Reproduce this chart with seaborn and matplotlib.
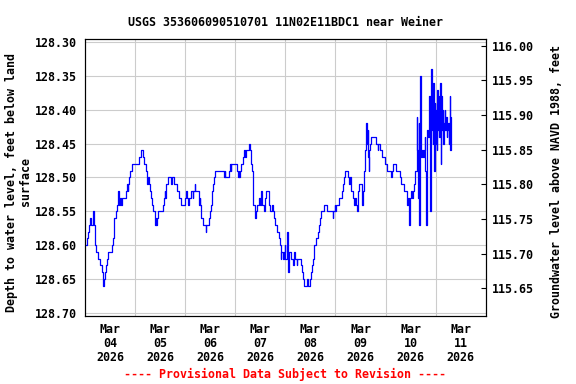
import pandas as pd
import matplotlib
matplotlib.use("Agg")
import matplotlib.pyplot as plt
import matplotlib.ticker as mticker
import seaborn as sns

# Hours after 2026-03-04 00:00 and depth to water (ft below land surface)
hours = [
    0.0, 0.8, 1.6, 2.1, 2.6, 2.9, 4.0, 4.3, 4.8, 5.3,
    6.4, 7.2, 8.0, 8.8, 9.1, 9.6, 10.1, 10.6, 10.9, 12.8,
    13.3, 13.8, 14.7, 15.2, 16.0, 16.3, 16.8, 17.3, 17.6, 19.5,
    20.2, 20.5, 20.8, 21.1, 21.6, 22.4, 26.1, 26.6, 27.8, 28.2,
    29.4, 29.8, 30.1, 30.7, 31.2, 31.7, 32.3, 32.8, 33.3, 33.6,
    33.9, 34.2, 34.6, 35.2, 37.4, 37.8, 38.1, 38.4, 38.7, 39.7,
    41.3, 41.6, 42.4, 44.0, 44.8, 45.8, 47.7, 48.3, 48.8, 49.3,
    49.6, 50.6, 51.5, 51.8, 52.5, 52.8, 54.4, 54.7, 54.9, 55.0,
    55.4, 55.8, 56.3, 57.9, 58.2, 59.2, 59.8, 60.3, 60.8, 61.3,
    61.8, 62.1, 66.6, 66.9, 67.2, 68.8, 69.4, 69.8, 70.1, 72.8,
    73.3, 73.6, 73.9, 74.4, 74.9, 75.8, 76.3, 76.6, 77.0, 78.4,
    79.0, 79.4, 79.7, 80.0, 80.3, 80.6, 81.3, 81.4, 81.8, 82.4,
    83.5, 84.0, 84.3, 84.8, 85.8, 86.4, 86.9, 88.0, 88.3, 88.6,
    89.6, 90.1, 90.6, 91.2, 92.0, 92.8, 93.4, 93.8, 94.1, 94.7,
    95.2, 95.7, 96.0, 96.6, 97.0, 97.3, 97.6, 98.9, 99.5, 100.2,
    100.8, 101.4, 101.8, 103.4, 104.0, 104.6, 105.0, 106.2, 106.6, 107.8,
    108.5, 108.8, 109.4, 109.9, 110.9, 111.4, 112.0, 112.6, 113.3, 114.6,
    116.0, 118.7, 119.0, 119.7, 120.0, 120.3, 121.6, 123.2, 123.5, 124.2,
    124.5, 125.8, 126.7, 127.0, 127.4, 128.3, 129.0, 129.3, 129.9, 130.2,
    130.9, 131.5, 132.8, 133.3, 133.8, 134.1, 134.4, 134.7, 135.0, 135.4,
    135.7, 136.0, 136.3, 136.6, 137.0, 139.2, 140.2, 140.5, 141.1, 142.1,
    143.5, 144.8, 146.4, 146.9, 147.7, 149.0, 150.9, 151.5, 152.8, 154.1,
    154.4, 154.7, 155.2, 155.5, 156.0, 156.5, 157.0, 157.6, 158.2, 158.9,
    159.2, 159.5, 159.8, 160.2, 160.5, 160.8, 161.1, 161.6, 162.1, 162.4,
    162.7, 163.0, 163.4, 163.7, 164.0, 164.5, 164.8, 165.1, 165.3, 165.6,
    165.9, 166.2, 166.6, 166.9, 167.2, 167.5, 167.8, 168.2, 168.5, 168.8,
    169.1, 169.4, 169.8, 170.1, 170.4, 170.7, 171.0, 171.4, 171.7, 172.0,
    172.3, 172.6, 173.0, 173.3, 173.6, 173.9, 174.2, 174.6, 174.9, 175.0,
    175.2, 175.5,
]
depth = [
    128.60, 128.59, 128.58, 128.57, 128.56, 128.57, 128.55, 128.57, 128.60, 128.61,
    128.62, 128.63, 128.64, 128.66, 128.65, 128.64, 128.63, 128.62, 128.61, 128.60,
    128.59, 128.56, 128.55, 128.54, 128.52, 128.54, 128.53, 128.54, 128.53, 128.52,
    128.51, 128.52, 128.51, 128.50, 128.49, 128.48, 128.47, 128.46, 128.47, 128.48,
    128.49, 128.51, 128.50, 128.51, 128.52, 128.53, 128.54, 128.55, 128.56, 128.57,
    128.56, 128.57, 128.56, 128.55, 128.54, 128.53, 128.52, 128.53, 128.51, 128.50,
    128.51, 128.50, 128.51, 128.52, 128.53, 128.54, 128.53, 128.52, 128.53, 128.54,
    128.53, 128.52, 128.53, 128.52, 128.51, 128.52, 128.53, 128.54, 128.53, 128.54,
    128.55, 128.56, 128.57, 128.58, 128.57, 128.56, 128.55, 128.54, 128.52, 128.51,
    128.50, 128.49, 128.50, 128.49, 128.50, 128.49, 128.48, 128.49, 128.48, 128.49,
    128.50, 128.49, 128.50, 128.49, 128.48, 128.47, 128.46, 128.47, 128.46, 128.45,
    128.46, 128.47, 128.48, 128.49, 128.52, 128.54, 128.55, 128.56, 128.55, 128.54,
    128.53, 128.54, 128.52, 128.54, 128.55, 128.53, 128.52, 128.53, 128.54, 128.55,
    128.54, 128.55, 128.56, 128.57, 128.58, 128.59, 128.60, 128.62, 128.61, 128.62,
    128.61, 128.60, 128.62, 128.61, 128.58, 128.64, 128.61, 128.62, 128.63, 128.61,
    128.62, 128.63, 128.62, 128.63, 128.64, 128.65, 128.66, 128.65, 128.66, 128.65,
    128.64, 128.63, 128.62, 128.60, 128.59, 128.58, 128.57, 128.56, 128.55, 128.54,
    128.55, 128.56, 128.55, 128.54, 128.55, 128.54, 128.53, 128.52, 128.51, 128.50,
    128.49, 128.50, 128.51, 128.50, 128.52, 128.53, 128.54, 128.53, 128.54, 128.55,
    128.52, 128.51, 128.54, 128.52, 128.49, 128.46, 128.44, 128.42, 128.45, 128.43,
    128.47, 128.49, 128.46, 128.45, 128.44, 128.45, 128.46, 128.45, 128.46, 128.47,
    128.48, 128.49, 128.50, 128.49, 128.48, 128.49, 128.50, 128.51, 128.52, 128.53,
    128.54, 128.53, 128.57, 128.53, 128.52, 128.53, 128.52, 128.51, 128.49, 128.41,
    128.46, 128.53, 128.42, 128.57, 128.35, 128.46, 128.47, 128.46, 128.47, 128.46,
    128.44, 128.49, 128.57, 128.44, 128.43, 128.44, 128.38, 128.43, 128.55, 128.40,
    128.34, 128.43, 128.45, 128.36, 128.49, 128.39, 128.45, 128.40, 128.46, 128.37,
    128.43, 128.38, 128.44, 128.36, 128.48, 128.38, 128.43, 128.40, 128.45, 128.42,
    128.40, 128.43, 128.41, 128.44, 128.42, 128.43, 128.45, 128.42, 128.38, 128.46,
    128.43, 128.41,
]
assert len(hours) == len(depth)

start = pd.Timestamp("2026-03-04")
day_labels = ["Mar\n04\n2026", "Mar\n05\n2026", "Mar\n06\n2026", "Mar\n07\n2026",
              "Mar\n08\n2026", "Mar\n09\n2026", "Mar\n10\n2026", "Mar\n11\n2026"]
left_ticks = [128.30, 128.35, 128.40, 128.45, 128.50, 128.55, 128.60, 128.65, 128.70]
right_ticks = [115.65, 115.70, 115.75, 115.80, 115.85, 115.90, 115.95, 116.00]

df = pd.DataFrame({"time": start + pd.to_timedelta(hours, unit="h"), "depth": depth})

sns.set_style("white")
plt.rcParams["font.family"] = ["DejaVu Sans Mono"]
plt.rcParams["font.weight"] = "bold"
plt.rcParams["font.size"] = 8.4
plt.rcParams["text.color"] = "black"
plt.rcParams["xtick.color"] = "black"
plt.rcParams["ytick.color"] = "black"
plt.rcParams["axes.labelcolor"] = "black"

fig = plt.figure(figsize=(5.76, 3.84), dpi=100)
ax = fig.add_axes([0.1476, 0.1779, 0.6957, 0.7198])

sns.lineplot(data=df, x="time", y="depth", ax=ax, color="#0000ff", linewidth=0.9,
             drawstyle="steps-post", estimator=None, zorder=3)

# x axis: day labels at noon, grid at midnight
ax.set_xlim(start, start + pd.Timedelta(days=8))
noon = [start + pd.Timedelta(hours=12 + 24 * i) for i in range(8)]
midnight = [start + pd.Timedelta(days=i) for i in range(1, 8)]
ax.set_xticks(noon)
ax.set_xticklabels(day_labels, linespacing=1.1)
ax.set_xticks(midnight, minor=True)
ax.tick_params(axis="x", which="both", length=0, pad=5)
ax.grid(True, axis="x", which="minor", color="#cccccc", linewidth=0.8)

ax.set_ylim(128.7044, 128.2956)
ax.set_yticks(left_ticks)
ax.yaxis.set_major_formatter(mticker.FormatStrFormatter("%.2f"))
ax.tick_params(axis="y", length=0, pad=6)
ax.grid(True, axis="y", which="major", color="#cccccc", linewidth=0.8)
ax.set_xlabel("")
ax.set_ylabel("")

ax2 = ax.twinx()
ax2.set_ylim(115.6105, 116.0092)
ax2.set_yticks(right_ticks)
ax2.yaxis.set_major_formatter(mticker.FormatStrFormatter("%.2f"))
ax2.tick_params(axis="y", direction="in", length=3.5, width=0.8, pad=4.5, colors="black")
ax2.grid(False)

for a in (ax, ax2):
    for s in a.spines.values():
        s.set_color("black")
        s.set_linewidth(0.8)

fig.text(285 / 576, 1 - 22 / 384, "USGS 353606090510701 11N02E11BDC1 near Weiner",
         ha="center", va="center")
fig.text(18.5 / 576, 1 - 182 / 384, "Depth to water level, feet below land\nsurface",
         rotation=90, ha="center", va="center", multialignment="center", linespacing=1.1)
fig.text(556.5 / 576, 1 - 181.5 / 384, "Groundwater level above NAVD 1988, feet",
         rotation=90, ha="center", va="center")
fig.text(284.5 / 576, 1 - 374 / 384, "---- Provisional Data Subject to Revision ----",
         ha="center", va="center", color="#ff0000")

fig.savefig("out.png", dpi=100)
